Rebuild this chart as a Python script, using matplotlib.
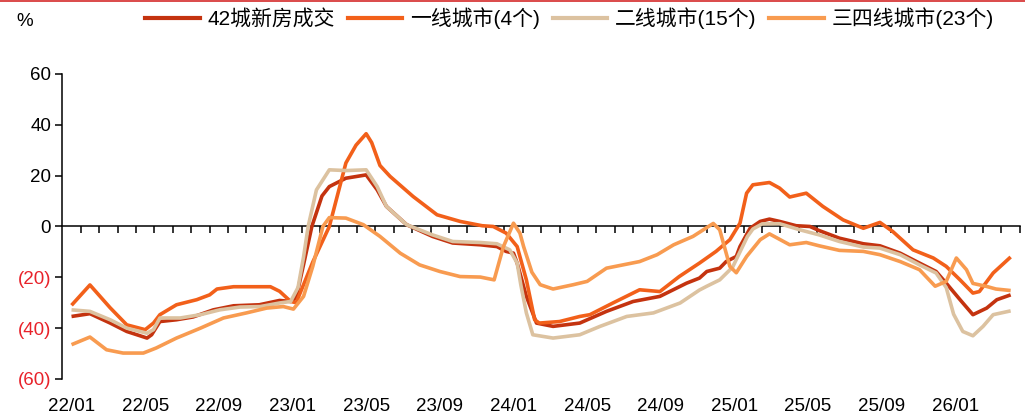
import matplotlib
matplotlib.use("Agg")
import matplotlib.pyplot as plt
from matplotlib.lines import Line2D
from matplotlib.ticker import FixedLocator, FuncFormatter

plt.rcParams['font.family'] = ['Liberation Sans', 'Noto Sans CJK SC', 'DejaVu Sans']

# month index: 0 = 2022/01, 51 = 2026/04
month_labels = ['22/01', '22/05', '22/09', '23/01', '23/05', '23/09', '24/01',
                '24/05', '24/09', '25/01', '25/05', '25/09', '26/01']
n_months = 52

names = ['42城新房成交', '一线城市(4个)', '二线城市(15个)', '三四线城市(23个)']
colors = ['#C4330F', '#F2601A', '#DCC2A0', '#F89B50']

# 42城新房成交
x_all = [0, 1.0, 2.1, 3.0, 4.1, 4.35, 4.8, 5.7, 6.6, 7.7, 8.8, 10.2, 11.3, 11.9,
         12.2, 12.6, 13.05, 13.6, 14.0, 14.9, 16.0, 16.6, 17.1, 18.2, 19.6, 20.7,
         22.2, 23.1, 23.6, 24.0, 24.2, 24.7, 25.25, 26.15, 27.6, 29.05, 30.5,
         31.95, 33.4, 34.1, 34.5, 35.2, 35.55, 36.1, 36.3, 36.85, 37.4, 37.9,
         38.45, 39.35, 40.1, 40.6, 41.7, 43.0, 43.9, 45.0, 46.05, 46.95, 47.5,
         48.25, 48.95, 49.7, 50.25, 51.0]
v_all = [-35.4, -34.3, -38.0, -41.3, -43.9, -42.6, -37.4, -36.7, -35.6, -32.8,
         -31.2, -30.8, -29.1, -29.5, -28.0, -15.0, 0.0, 12.0, 15.7, 19.0, 20.3,
         14.4, 7.9, 0.7, -3.9, -6.5, -7.2, -7.9, -9.8, -10.5, -14.4, -27.5,
         -38.0, -39.3, -38.0, -33.4, -29.5, -27.5, -22.3, -20.3, -17.7, -16.4,
         -13.8, -11.8, -7.9, -0.7, 2.0, 2.9, 2.0, 0.3, 0.0, -1.6, -4.6, -6.8,
         -7.6, -10.5, -14.4, -17.7, -22.3, -28.8, -34.7, -32.1, -28.8, -26.9]

# 一线城市
x_t1 = [0, 1.0, 2.1, 3.0, 4.0, 4.45, 4.8, 5.7, 6.8, 7.5, 7.9, 8.8, 10.8, 11.3,
        11.9, 12.2, 13.1, 14.0, 14.9, 15.45, 16.0, 16.3, 16.75, 17.3, 18.55,
        19.85, 21.1, 22.3, 22.9, 23.6, 24.2, 24.7, 25.15, 25.4, 26.5, 27.6,
        28.15, 29.4, 30.85, 31.95, 33.0, 34.1, 35.0, 35.75, 36.3, 36.66, 37.0,
        37.9, 38.45, 39.0, 39.9, 40.8, 41.9, 43.0, 43.9, 44.6, 45.7, 46.8, 47.5,
        48.25, 48.95, 49.3, 50.05, 51.0]
v_t1 = [-31.0, -23.0, -32.0, -38.7, -40.6, -38.0, -34.7, -30.8, -28.8, -26.9,
        -24.6, -23.7, -23.7, -25.5, -29.5, -30.0, -14.0, 0.0, 25.0, 32.0, 36.5,
        33.0, 24.0, 19.7, 11.8, 4.6, 2.0, 0.3, 0.0, -2.6, -7.9, -21.0, -36.7,
        -38.0, -37.4, -35.4, -34.7, -30.1, -24.9, -25.6, -19.7, -14.4, -9.8,
        -5.2, 1.3, 13.1, 16.4, 17.3, 15.1, 11.6, 13.1, 7.9, 2.6, -0.7, 1.6,
        -2.0, -9.2, -12.4, -15.7, -21.0, -26.2, -25.6, -18.3, -12.0]

# 二线城市
x_t2 = [0, 1.0, 2.1, 3.0, 4.1, 4.45, 4.8, 5.9, 7.0, 8.05, 9.15, 10.25, 11.3,
        11.9, 12.3, 12.6, 12.85, 13.3, 14.0, 14.9, 16.0, 16.6, 17.1, 18.2, 19.6,
        20.7, 22.2, 23.1, 23.8, 24.2, 24.4, 24.7, 25.05, 26.15, 27.6, 28.7,
        30.15, 31.6, 33.05, 34.1, 34.5, 35.2, 35.9, 36.3, 36.7, 37.0, 37.5,
        38.45, 39.55, 40.6, 41.7, 43.0, 43.9, 45.0, 46.05, 46.95, 47.5, 47.9,
        48.4, 48.95, 49.5, 50.05, 51.0]
v_t2 = [-32.8, -33.4, -36.7, -40.0, -42.0, -40.6, -36.0, -36.0, -34.7, -32.8,
        -31.7, -31.5, -30.1, -29.5, -24.0, -12.0, 0.0, 14.4, 22.3, 22.0, 22.3,
        15.7, 7.9, 0.7, -3.3, -5.9, -6.3, -6.8, -9.2, -14.4, -23.0, -34.0,
        -42.6, -43.9, -42.6, -39.3, -35.4, -34.0, -30.1, -25.0, -23.5, -21.0,
        -16.0, -10.0, -4.0, -1.0, 1.0, 1.1, -1.3, -3.3, -5.9, -8.1, -8.5, -11.1,
        -15.1, -18.3, -24.0, -34.5, -41.3, -43.0, -39.3, -34.7, -33.2]

# 三四线城市
x_t3 = [0, 1.0, 1.9, 2.8, 3.9, 4.6, 5.7, 7.0, 8.25, 9.5, 10.6, 11.5, 12.05,
        12.6, 13.1, 13.65, 14.0, 14.9, 15.85, 16.75, 17.85, 18.9, 20.0, 21.1,
        22.2, 22.95, 23.45, 24.0, 24.35, 24.55, 25.0, 25.45, 26.15, 27.25, 28.0,
        29.05, 30.85, 31.8, 32.7, 33.75, 34.85, 35.2, 35.75, 36.1, 36.66, 37.4,
        37.9, 39.0, 39.9, 40.6, 41.7, 43.0, 43.9, 45.0, 46.05, 46.9, 47.5, 48.05,
        48.6, 48.95, 49.7, 50.2, 51.0]
v_t3 = [-46.5, -43.5, -48.5, -49.8, -49.8, -47.8, -43.9, -40.0, -36.0, -34.0,
        -32.1, -31.5, -32.5, -27.5, -15.7, 0.0, 3.5, 3.3, 0.7, -3.9, -10.5,
        -15.1, -17.7, -19.7, -19.9, -21.0, -8.0, 1.3, -2.6, -7.9, -18.0, -22.9,
        -24.6, -22.9, -21.6, -16.4, -13.8, -11.1, -7.2, -3.9, 1.2, -1.3, -15.7,
        -18.2, -11.8, -5.2, -2.9, -7.2, -6.3, -7.6, -9.4, -9.8, -11.1, -13.8,
        -17.0, -23.5, -21.6, -12.4, -17.0, -22.4, -23.6, -24.6, -25.2]

fig = plt.figure(figsize=(10.25, 4.19), dpi=100)
ax = fig.add_axes([0.0608, 0.0955, 0.9342, 0.7279])

series = [(x_all, v_all), (x_t1, v_t1), (x_t2, v_t2), (x_t3, v_t3)]
for i, (xs, vs) in enumerate(series):
    ax.plot(xs, vs, color=colors[i], lw=2.6, solid_joinstyle='round',
            solid_capstyle='butt', zorder=3 + i)

ax.set_xlim(-0.5, n_months - 0.5)
ax.set_ylim(-60, 60)

for s in ['right', 'bottom']:
    ax.spines[s].set_visible(False)
ax.spines['top'].set_position(('data', 0))
ax.spines['top'].set_linewidth(1.1)
ax.spines['left'].set_linewidth(1.1)

# month labels on the bottom, month boundary ticks hanging from the zero line
ax.xaxis.set_major_locator(FixedLocator(range(0, 49, 4)))
ax.set_xticklabels(month_labels)
ax.xaxis.set_minor_locator(FixedLocator([k - 0.5 for k in range(1, n_months + 1)]))
ax.tick_params(axis='x', which='major', length=0, pad=13.5, labelsize=13.5,
               top=False, bottom=True)
ax.tick_params(axis='x', which='minor', length=5, width=1.1, direction='in',
               top=True, bottom=False)

ax.set_yticks([-60, -40, -20, 0, 20, 40, 60])
ax.yaxis.set_major_formatter(FuncFormatter(
    lambda v, p: f'({abs(int(v))})' if v < 0 else f'{int(v)}'))
ax.tick_params(axis='y', length=5, width=1.1, pad=3, labelsize=13.5)
for lab, v in zip(ax.get_yticklabels(), ax.get_yticks()):
    if v < 0:
        lab.set_color('#E8222A')

fig.text(0.016, 0.948, '%', fontsize=13.5, ha='left', va='center')

handles = [Line2D([], [], color=c, lw=3) for c in colors]
fig.legend(handles, names, loc='center right', bbox_to_anchor=(0.978, 0.957),
           ncol=4, frameon=False, fontsize=15, handlelength=2.6,
           handletextpad=0.4, columnspacing=0.6, borderaxespad=0)

# thin red rule along the top edge
fig.add_artist(Line2D([0, 1], [0.998, 0.998], color='#D42A2A', lw=1.2,
                      transform=fig.transFigure))

fig.savefig('out.png', dpi=100)
